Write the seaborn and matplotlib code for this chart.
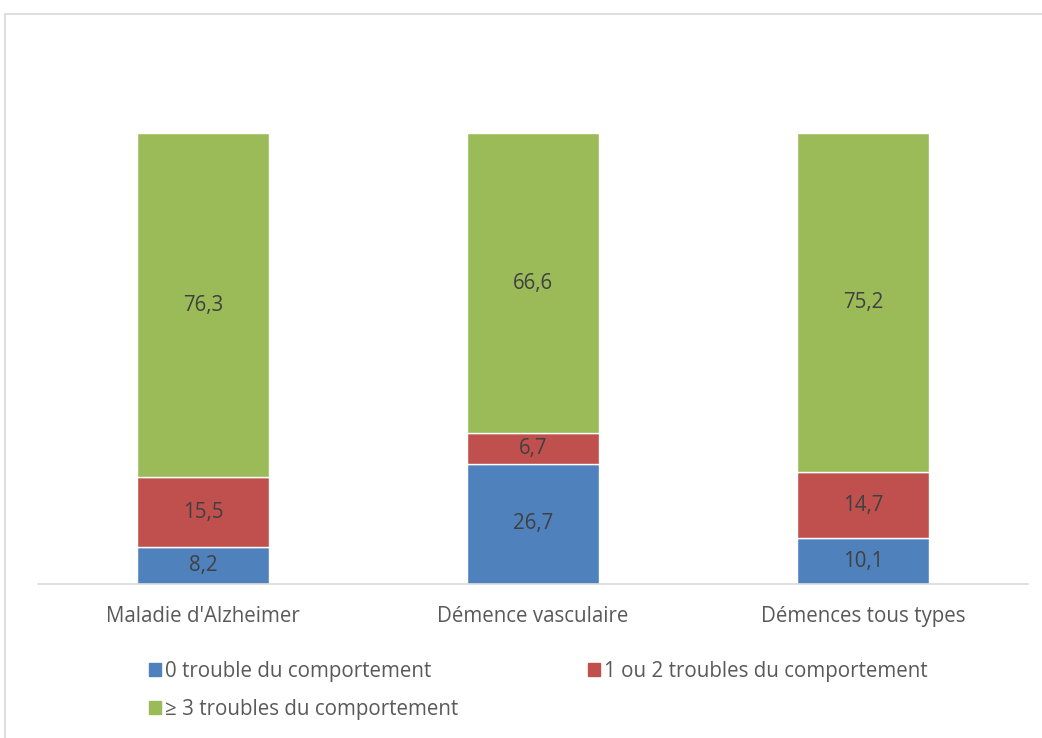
import pandas as pd
import seaborn as sns
import matplotlib.pyplot as plt
from matplotlib.patches import Rectangle, Patch

categories = ["Maladie d'Alzheimer", "Démence vasculaire", "Démences tous types"]
zero_trouble = [8.2, 26.7, 10.1]
un_deux_troubles = [15.5, 6.7, 14.7]
trois_plus = [76.3, 66.6, 75.2]
series_names = ["0 trouble du comportement", "1 ou 2 troubles du comportement",
                "≥ 3 troubles du comportement"]
colors = ["#4F81BD", "#C0504D", "#9BBB59"]

df = pd.DataFrame({"cat": categories, "s0": zero_trouble,
                   "s1": un_deux_troubles, "s2": trois_plus})

sns.set_style("white")
plt.rcParams['font.family'] = ['Open Sans', 'DejaVu Sans']

fig = plt.figure(figsize=(10.42, 7.38), dpi=100)
ax = fig.add_axes([38 / 1042, 154 / 738, 990 / 1042, 451 / 738])

# stacked bars: each series drawn on top of the running total
bottom = [0.0, 0.0, 0.0]
for col, c in zip(["s0", "s1", "s2"], colors):
    sns.barplot(data=df, x="cat", y=col, color=c, width=0.4, bottom=bottom,
                saturation=1, ax=ax, errorbar=None)
    bottom = [b + v for b, v in zip(bottom, df[col])]

for cont in ax.containers:
    ax.bar_label(cont, labels=[f"{r.get_height():.1f}".replace(".", ",") for r in cont],
                 label_type="center", fontsize=14.8, color="#404040")

ax.set_ylim(0, 100)
ax.set_xlim(-0.5, 2.5)
ax.set_xlabel("")
ax.set_ylabel("")
ax.set_yticks([])
for s in ["top", "right", "left"]:
    ax.spines[s].set_visible(False)
ax.spines["bottom"].set_color("#D9D9D9")
ax.spines["bottom"].set_linewidth(1.2)
ax.tick_params(axis="x", length=0, pad=16, labelsize=14.8, labelcolor="#595959")

# legend filled column-wise, so reorder to read row by row
handles = [Patch(color=c) for c in colors]
order = [0, 2, 1]
fig.legend([handles[i] for i in order], [series_names[i] for i in order],
           ncol=2, loc="upper left",
           bbox_to_anchor=(130 / 1042, 1 - 642 / 738), frameon=False,
           fontsize=14.8, labelcolor="#595959", handlelength=0.6, handleheight=0.6,
           handletextpad=0.2, columnspacing=6.3, labelspacing=0.85)

fig.patches.append(Rectangle((4.5 / 1042, -0.1), 1.2, 1 - 14 / 738 + 0.1,
                             transform=fig.transFigure, fill=False,
                             edgecolor="#D9D9D9", linewidth=1.2))

fig.savefig("out.png", dpi=100)
